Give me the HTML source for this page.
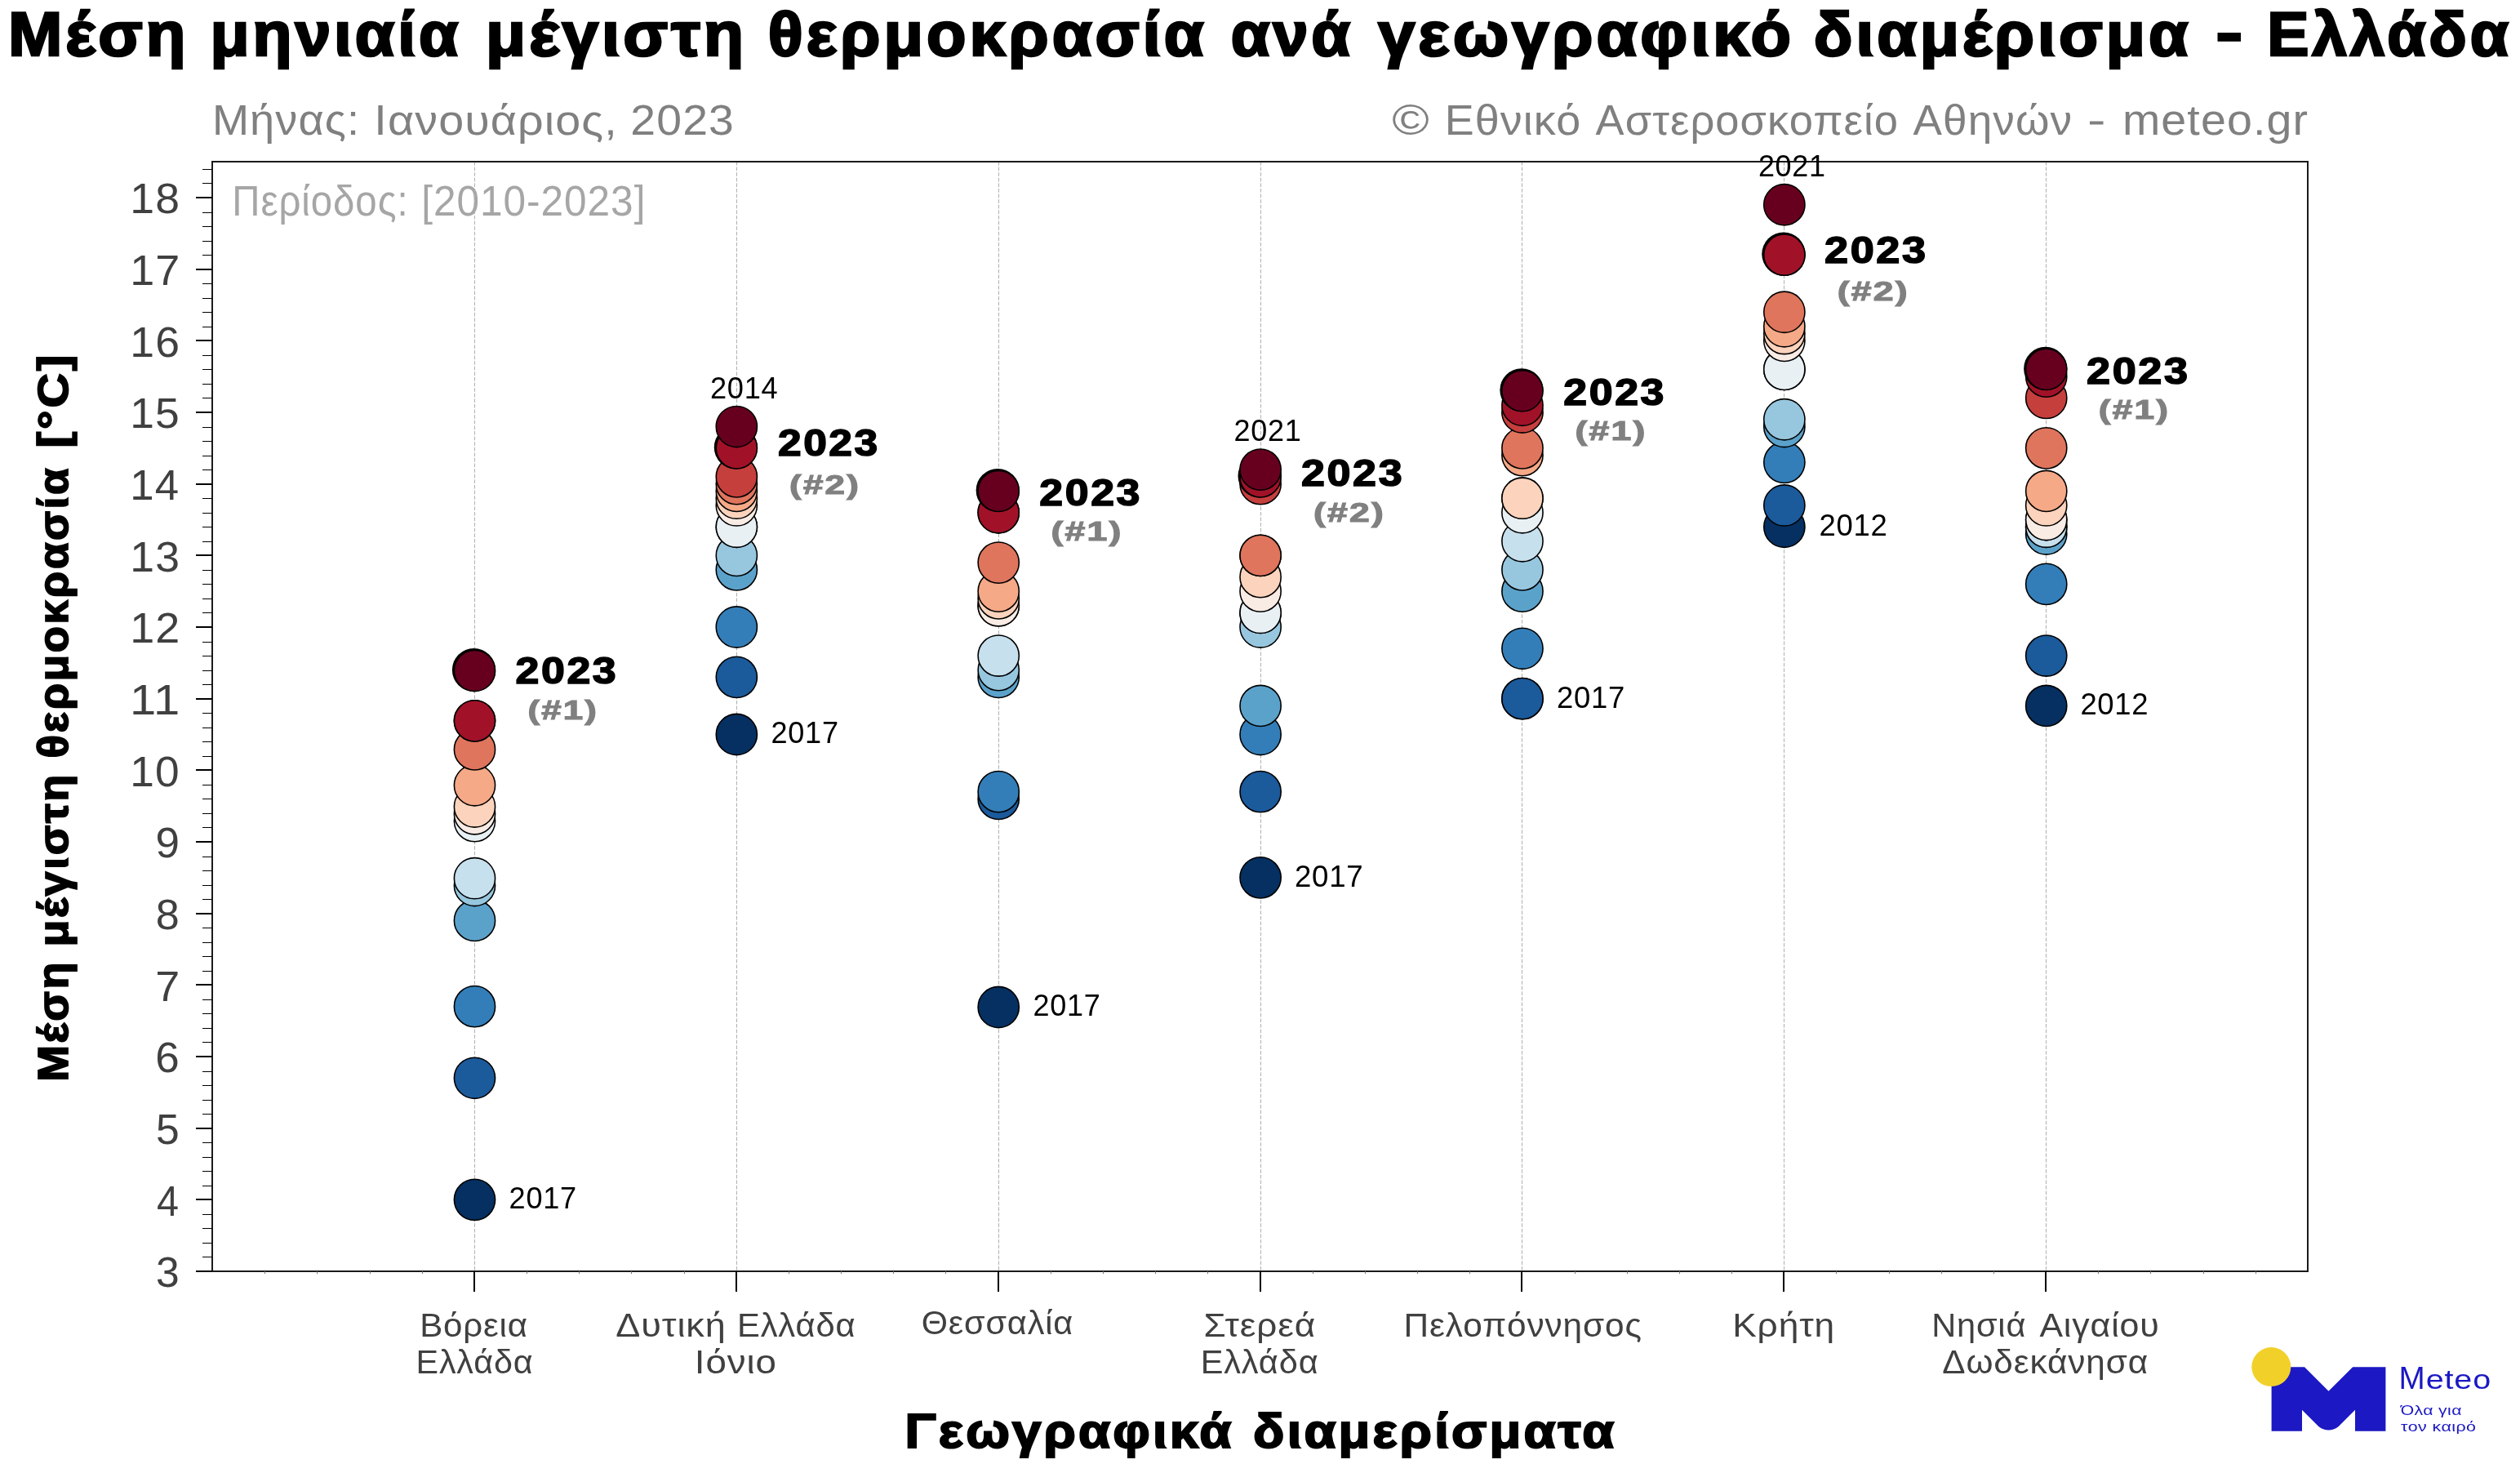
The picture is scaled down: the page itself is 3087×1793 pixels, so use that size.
<!DOCTYPE html>
<html lang="el"><head><meta charset="utf-8"><title>Μέση μηνιαία μέγιστη θερμοκρασία</title>
<style>html,body{margin:0;padding:0;background:#fff}svg{display:block;will-change:transform;transform:translateZ(0)}text{white-space:pre}</style></head>
<body>
<svg width="3087" height="1793" viewBox="0 0 3087 1793" font-family="'Liberation Sans', sans-serif">
<rect width="3087" height="1793" fill="#fff"/>
<text transform="translate(284.29,263.50) scale(0.9154,1)" font-size="51.74" letter-spacing="1.03" fill="#a6a6a6">Περίοδος:</text>
<text transform="translate(516.13,263.50) scale(0.9576,1)" font-size="51.74" letter-spacing="1.03" fill="#a6a6a6">[2010-2023]</text>
<line x1="581.5" y1="198" x2="581.5" y2="1557" stroke="#b0b0b0" stroke-width="1" stroke-dasharray="4.6 2"/>
<line x1="902.5" y1="198" x2="902.5" y2="1557" stroke="#b0b0b0" stroke-width="1" stroke-dasharray="4.6 2"/>
<line x1="1223.5" y1="198" x2="1223.5" y2="1557" stroke="#b0b0b0" stroke-width="1" stroke-dasharray="4.6 2"/>
<line x1="1544.5" y1="198" x2="1544.5" y2="1557" stroke="#b0b0b0" stroke-width="1" stroke-dasharray="4.6 2"/>
<line x1="1864.5" y1="198" x2="1864.5" y2="1557" stroke="#b0b0b0" stroke-width="1" stroke-dasharray="4.6 2"/>
<line x1="2185.5" y1="198" x2="2185.5" y2="1557" stroke="#b0b0b0" stroke-width="1" stroke-dasharray="4.6 2"/>
<line x1="2506.5" y1="198" x2="2506.5" y2="1557" stroke="#b0b0b0" stroke-width="1" stroke-dasharray="4.6 2"/>
<circle cx="581.48" cy="1469.33" r="25.1" fill="#053061" stroke="#000" stroke-width="1.6"/>
<circle cx="581.48" cy="1320.30" r="25.1" fill="#1b5a9b" stroke="#000" stroke-width="1.6"/>
<circle cx="581.48" cy="1232.63" r="25.1" fill="#337eb8" stroke="#000" stroke-width="1.6"/>
<circle cx="581.48" cy="1127.43" r="25.1" fill="#5ba2cb" stroke="#000" stroke-width="1.6"/>
<circle cx="581.48" cy="1084.48" r="25.1" fill="#97c7df" stroke="#000" stroke-width="1.6"/>
<circle cx="581.48" cy="1075.71" r="25.1" fill="#c7e0ed" stroke="#000" stroke-width="1.6"/>
<circle cx="581.48" cy="1005.58" r="25.1" fill="#e8f0f4" stroke="#000" stroke-width="1.6"/>
<circle cx="581.48" cy="996.81" r="25.1" fill="#f9ece5" stroke="#000" stroke-width="1.6"/>
<circle cx="581.48" cy="988.04" r="25.1" fill="#fcd3bc" stroke="#000" stroke-width="1.6"/>
<circle cx="581.48" cy="961.74" r="25.1" fill="#f5a987" stroke="#000" stroke-width="1.6"/>
<circle cx="581.48" cy="917.91" r="25.1" fill="#df755d" stroke="#000" stroke-width="1.6"/>
<circle cx="581.48" cy="882.84" r="25.1" fill="#c53f3d" stroke="#000" stroke-width="1.6"/>
<circle cx="581.48" cy="882.84" r="25.1" fill="#a11228" stroke="#000" stroke-width="1.6"/>
<circle cx="580.48" cy="820.53" r="26.6" fill="#000"/>
<circle cx="581.48" cy="821.48" r="25.1" fill="#67001f" stroke="#000" stroke-width="1.6"/>
<circle cx="902.35" cy="899.50" r="25.1" fill="#053061" stroke="#000" stroke-width="1.6"/>
<circle cx="902.35" cy="829.37" r="25.1" fill="#1b5a9b" stroke="#000" stroke-width="1.6"/>
<circle cx="902.35" cy="768.00" r="25.1" fill="#337eb8" stroke="#000" stroke-width="1.6"/>
<circle cx="902.35" cy="697.87" r="25.1" fill="#5ba2cb" stroke="#000" stroke-width="1.6"/>
<circle cx="902.35" cy="680.33" r="25.1" fill="#97c7df" stroke="#000" stroke-width="1.6"/>
<circle cx="902.35" cy="645.27" r="25.1" fill="#c7e0ed" stroke="#000" stroke-width="1.6"/>
<circle cx="902.35" cy="645.27" r="25.1" fill="#e8f0f4" stroke="#000" stroke-width="1.6"/>
<circle cx="902.35" cy="618.97" r="25.1" fill="#f9ece5" stroke="#000" stroke-width="1.6"/>
<circle cx="902.35" cy="610.20" r="25.1" fill="#fcd3bc" stroke="#000" stroke-width="1.6"/>
<circle cx="902.35" cy="601.43" r="25.1" fill="#f5a987" stroke="#000" stroke-width="1.6"/>
<circle cx="902.35" cy="592.67" r="25.1" fill="#df755d" stroke="#000" stroke-width="1.6"/>
<circle cx="902.35" cy="583.90" r="25.1" fill="#c53f3d" stroke="#000" stroke-width="1.6"/>
<circle cx="901.35" cy="547.88" r="26.6" fill="#000"/>
<circle cx="902.35" cy="548.83" r="25.1" fill="#a11228" stroke="#000" stroke-width="1.6"/>
<circle cx="902.35" cy="522.53" r="25.1" fill="#67001f" stroke="#000" stroke-width="1.6"/>
<circle cx="1223.22" cy="1233.51" r="25.1" fill="#053061" stroke="#000" stroke-width="1.6"/>
<circle cx="1223.22" cy="978.40" r="25.1" fill="#1b5a9b" stroke="#000" stroke-width="1.6"/>
<circle cx="1223.22" cy="969.63" r="25.1" fill="#337eb8" stroke="#000" stroke-width="1.6"/>
<circle cx="1223.22" cy="829.37" r="25.1" fill="#5ba2cb" stroke="#000" stroke-width="1.6"/>
<circle cx="1223.22" cy="820.60" r="25.1" fill="#97c7df" stroke="#000" stroke-width="1.6"/>
<circle cx="1223.22" cy="803.07" r="25.1" fill="#c7e0ed" stroke="#000" stroke-width="1.6"/>
<circle cx="1223.22" cy="741.70" r="25.1" fill="#e8f0f4" stroke="#000" stroke-width="1.6"/>
<circle cx="1223.22" cy="741.70" r="25.1" fill="#f9ece5" stroke="#000" stroke-width="1.6"/>
<circle cx="1223.22" cy="732.93" r="25.1" fill="#fcd3bc" stroke="#000" stroke-width="1.6"/>
<circle cx="1223.22" cy="724.17" r="25.1" fill="#f5a987" stroke="#000" stroke-width="1.6"/>
<circle cx="1223.22" cy="689.10" r="25.1" fill="#df755d" stroke="#000" stroke-width="1.6"/>
<circle cx="1223.22" cy="627.73" r="25.1" fill="#c53f3d" stroke="#000" stroke-width="1.6"/>
<circle cx="1223.22" cy="627.73" r="25.1" fill="#a11228" stroke="#000" stroke-width="1.6"/>
<circle cx="1222.22" cy="600.48" r="26.6" fill="#000"/>
<circle cx="1223.22" cy="601.43" r="25.1" fill="#67001f" stroke="#000" stroke-width="1.6"/>
<circle cx="1544.10" cy="1074.83" r="25.1" fill="#053061" stroke="#000" stroke-width="1.6"/>
<circle cx="1544.10" cy="969.63" r="25.1" fill="#1b5a9b" stroke="#000" stroke-width="1.6"/>
<circle cx="1544.10" cy="899.50" r="25.1" fill="#337eb8" stroke="#000" stroke-width="1.6"/>
<circle cx="1544.10" cy="864.43" r="25.1" fill="#5ba2cb" stroke="#000" stroke-width="1.6"/>
<circle cx="1544.10" cy="768.00" r="25.1" fill="#97c7df" stroke="#000" stroke-width="1.6"/>
<circle cx="1544.10" cy="750.47" r="25.1" fill="#c7e0ed" stroke="#000" stroke-width="1.6"/>
<circle cx="1544.10" cy="750.47" r="25.1" fill="#e8f0f4" stroke="#000" stroke-width="1.6"/>
<circle cx="1544.10" cy="724.17" r="25.1" fill="#f9ece5" stroke="#000" stroke-width="1.6"/>
<circle cx="1544.10" cy="706.63" r="25.1" fill="#fcd3bc" stroke="#000" stroke-width="1.6"/>
<circle cx="1544.10" cy="680.33" r="25.1" fill="#f5a987" stroke="#000" stroke-width="1.6"/>
<circle cx="1544.10" cy="680.33" r="25.1" fill="#df755d" stroke="#000" stroke-width="1.6"/>
<circle cx="1544.10" cy="592.67" r="25.1" fill="#c53f3d" stroke="#000" stroke-width="1.6"/>
<circle cx="1543.10" cy="582.95" r="26.6" fill="#000"/>
<circle cx="1544.10" cy="583.90" r="25.1" fill="#a11228" stroke="#000" stroke-width="1.6"/>
<circle cx="1544.10" cy="575.13" r="25.1" fill="#67001f" stroke="#000" stroke-width="1.6"/>
<circle cx="1864.97" cy="855.67" r="25.1" fill="#053061" stroke="#000" stroke-width="1.6"/>
<circle cx="1864.97" cy="855.67" r="25.1" fill="#1b5a9b" stroke="#000" stroke-width="1.6"/>
<circle cx="1864.97" cy="794.30" r="25.1" fill="#337eb8" stroke="#000" stroke-width="1.6"/>
<circle cx="1864.97" cy="724.17" r="25.1" fill="#5ba2cb" stroke="#000" stroke-width="1.6"/>
<circle cx="1864.97" cy="697.87" r="25.1" fill="#97c7df" stroke="#000" stroke-width="1.6"/>
<circle cx="1864.97" cy="662.80" r="25.1" fill="#c7e0ed" stroke="#000" stroke-width="1.6"/>
<circle cx="1864.97" cy="627.73" r="25.1" fill="#e8f0f4" stroke="#000" stroke-width="1.6"/>
<circle cx="1864.97" cy="610.20" r="25.1" fill="#f9ece5" stroke="#000" stroke-width="1.6"/>
<circle cx="1864.97" cy="610.20" r="25.1" fill="#fcd3bc" stroke="#000" stroke-width="1.6"/>
<circle cx="1864.97" cy="557.60" r="25.1" fill="#f5a987" stroke="#000" stroke-width="1.6"/>
<circle cx="1864.97" cy="548.83" r="25.1" fill="#df755d" stroke="#000" stroke-width="1.6"/>
<circle cx="1864.97" cy="505.00" r="25.1" fill="#c53f3d" stroke="#000" stroke-width="1.6"/>
<circle cx="1864.97" cy="496.23" r="25.1" fill="#a11228" stroke="#000" stroke-width="1.6"/>
<circle cx="1863.97" cy="477.75" r="26.6" fill="#000"/>
<circle cx="1864.97" cy="478.70" r="25.1" fill="#67001f" stroke="#000" stroke-width="1.6"/>
<circle cx="2185.85" cy="645.27" r="25.1" fill="#053061" stroke="#000" stroke-width="1.6"/>
<circle cx="2185.85" cy="618.97" r="25.1" fill="#1b5a9b" stroke="#000" stroke-width="1.6"/>
<circle cx="2185.85" cy="566.37" r="25.1" fill="#337eb8" stroke="#000" stroke-width="1.6"/>
<circle cx="2185.85" cy="522.53" r="25.1" fill="#5ba2cb" stroke="#000" stroke-width="1.6"/>
<circle cx="2185.85" cy="513.77" r="25.1" fill="#97c7df" stroke="#000" stroke-width="1.6"/>
<circle cx="2185.85" cy="452.40" r="25.1" fill="#c7e0ed" stroke="#000" stroke-width="1.6"/>
<circle cx="2185.85" cy="452.40" r="25.1" fill="#e8f0f4" stroke="#000" stroke-width="1.6"/>
<circle cx="2185.85" cy="417.33" r="25.1" fill="#f9ece5" stroke="#000" stroke-width="1.6"/>
<circle cx="2185.85" cy="408.57" r="25.1" fill="#fcd3bc" stroke="#000" stroke-width="1.6"/>
<circle cx="2185.85" cy="399.80" r="25.1" fill="#f5a987" stroke="#000" stroke-width="1.6"/>
<circle cx="2185.85" cy="382.27" r="25.1" fill="#df755d" stroke="#000" stroke-width="1.6"/>
<circle cx="2185.85" cy="312.13" r="25.1" fill="#c53f3d" stroke="#000" stroke-width="1.6"/>
<circle cx="2184.85" cy="311.18" r="26.6" fill="#000"/>
<circle cx="2185.85" cy="312.13" r="25.1" fill="#a11228" stroke="#000" stroke-width="1.6"/>
<circle cx="2185.85" cy="250.77" r="25.1" fill="#67001f" stroke="#000" stroke-width="1.6"/>
<circle cx="2506.72" cy="864.43" r="25.1" fill="#053061" stroke="#000" stroke-width="1.6"/>
<circle cx="2506.72" cy="803.07" r="25.1" fill="#1b5a9b" stroke="#000" stroke-width="1.6"/>
<circle cx="2506.72" cy="715.40" r="25.1" fill="#337eb8" stroke="#000" stroke-width="1.6"/>
<circle cx="2506.72" cy="654.03" r="25.1" fill="#5ba2cb" stroke="#000" stroke-width="1.6"/>
<circle cx="2506.72" cy="645.27" r="25.1" fill="#97c7df" stroke="#000" stroke-width="1.6"/>
<circle cx="2506.72" cy="645.27" r="25.1" fill="#c7e0ed" stroke="#000" stroke-width="1.6"/>
<circle cx="2506.72" cy="636.50" r="25.1" fill="#e8f0f4" stroke="#000" stroke-width="1.6"/>
<circle cx="2506.72" cy="636.50" r="25.1" fill="#f9ece5" stroke="#000" stroke-width="1.6"/>
<circle cx="2506.72" cy="618.97" r="25.1" fill="#fcd3bc" stroke="#000" stroke-width="1.6"/>
<circle cx="2506.72" cy="601.43" r="25.1" fill="#f5a987" stroke="#000" stroke-width="1.6"/>
<circle cx="2506.72" cy="548.83" r="25.1" fill="#df755d" stroke="#000" stroke-width="1.6"/>
<circle cx="2506.72" cy="487.47" r="25.1" fill="#c53f3d" stroke="#000" stroke-width="1.6"/>
<circle cx="2506.72" cy="461.17" r="25.1" fill="#a11228" stroke="#000" stroke-width="1.6"/>
<circle cx="2505.72" cy="451.45" r="26.6" fill="#000"/>
<circle cx="2506.72" cy="452.40" r="25.1" fill="#67001f" stroke="#000" stroke-width="1.6"/>
<rect x="260" y="198" width="2567" height="1359" fill="none" stroke="#1a1a1a" stroke-width="2"/>
<line x1="240" y1="1557" x2="260" y2="1557" stroke="#000" stroke-width="2"/>
<line x1="240" y1="1469" x2="260" y2="1469" stroke="#000" stroke-width="2"/>
<line x1="240" y1="1382" x2="260" y2="1382" stroke="#000" stroke-width="2"/>
<line x1="240" y1="1294" x2="260" y2="1294" stroke="#000" stroke-width="2"/>
<line x1="240" y1="1206" x2="260" y2="1206" stroke="#000" stroke-width="2"/>
<line x1="240" y1="1119" x2="260" y2="1119" stroke="#000" stroke-width="2"/>
<line x1="240" y1="1031" x2="260" y2="1031" stroke="#000" stroke-width="2"/>
<line x1="240" y1="943" x2="260" y2="943" stroke="#000" stroke-width="2"/>
<line x1="240" y1="856" x2="260" y2="856" stroke="#000" stroke-width="2"/>
<line x1="240" y1="768" x2="260" y2="768" stroke="#000" stroke-width="2"/>
<line x1="240" y1="680" x2="260" y2="680" stroke="#000" stroke-width="2"/>
<line x1="240" y1="593" x2="260" y2="593" stroke="#000" stroke-width="2"/>
<line x1="240" y1="505" x2="260" y2="505" stroke="#000" stroke-width="2"/>
<line x1="240" y1="417" x2="260" y2="417" stroke="#000" stroke-width="2"/>
<line x1="240" y1="330" x2="260" y2="330" stroke="#000" stroke-width="2"/>
<line x1="240" y1="242" x2="260" y2="242" stroke="#000" stroke-width="2"/>
<path d="M248 1539.5H260M248 1522.5H260M248 1504.5H260M248 1487.5H260M248 1452.5H260M248 1434.5H260M248 1417.5H260M248 1399.5H260M248 1364.5H260M248 1347.5H260M248 1329.5H260M248 1312.5H260M248 1276.5H260M248 1259.5H260M248 1241.5H260M248 1224.5H260M248 1189.5H260M248 1171.5H260M248 1154.5H260M248 1136.5H260M248 1101.5H260M248 1084.5H260M248 1066.5H260M248 1049.5H260M248 1013.5H260M248 996.5H260M248 978.5H260M248 961.5H260M248 926.5H260M248 908.5H260M248 891.5H260M248 873.5H260M248 838.5H260M248 821.5H260M248 803.5H260M248 786.5H260M248 750.5H260M248 733.5H260M248 715.5H260M248 698.5H260M248 663.5H260M248 645.5H260M248 628.5H260M248 610.5H260M248 575.5H260M248 558.5H260M248 540.5H260M248 523.5H260M248 487.5H260M248 470.5H260M248 452.5H260M248 435.5H260M248 400.5H260M248 382.5H260M248 365.5H260M248 347.5H260M248 312.5H260M248 295.5H260M248 277.5H260M248 260.5H260M248 224.5H260M248 207.5H260" stroke="#000" stroke-width="1" fill="none"/>
<line x1="581" y1="1557" x2="581" y2="1582" stroke="#000" stroke-width="2"/>
<line x1="902" y1="1557" x2="902" y2="1582" stroke="#000" stroke-width="2"/>
<line x1="1223" y1="1557" x2="1223" y2="1582" stroke="#000" stroke-width="2"/>
<line x1="1544" y1="1557" x2="1544" y2="1582" stroke="#000" stroke-width="2"/>
<line x1="1864" y1="1557" x2="1864" y2="1582" stroke="#000" stroke-width="2"/>
<line x1="2185" y1="1557" x2="2185" y2="1582" stroke="#000" stroke-width="2"/>
<line x1="2506" y1="1557" x2="2506" y2="1582" stroke="#000" stroke-width="2"/>
<path d="M324.5 1557V1560.2M388.5 1557V1560.2M453.5 1557V1560.2M517.5 1557V1560.2M645.5 1557V1560.2M709.5 1557V1560.2M773.5 1557V1560.2M838.5 1557V1560.2M966.5 1557V1560.2M1030.5 1557V1560.2M1094.5 1557V1560.2M1158.5 1557V1560.2M1287.5 1557V1560.2M1351.5 1557V1560.2M1415.5 1557V1560.2M1479.5 1557V1560.2M1608.5 1557V1560.2M1672.5 1557V1560.2M1736.5 1557V1560.2M1800.5 1557V1560.2M1929.5 1557V1560.2M1993.5 1557V1560.2M2057.5 1557V1560.2M2121.5 1557V1560.2M2249.5 1557V1560.2M2314.5 1557V1560.2M2378.5 1557V1560.2M2442.5 1557V1560.2M2570.5 1557V1560.2M2634.5 1557V1560.2M2699.5 1557V1560.2M2763.5 1557V1560.2" stroke="#777" stroke-width="1" fill="none"/>
<rect x="2716.5" y="40" width="28.5" height="10.8" fill="#000"/>
<rect x="2560" y="148.5" width="16.5" height="4" fill="#808080"/>
<text transform="translate(9.93,68.29) scale(1.0567,1)" font-size="75.41" font-weight="bold" stroke="#000" stroke-width="2.62" letter-spacing="3.77" fill="#000">Μέση</text>
<text transform="translate(257.40,68.29) scale(1.0430,1)" font-size="75.41" font-weight="bold" stroke="#000" stroke-width="2.62" letter-spacing="3.77" fill="#000">μηνιαία</text>
<text transform="translate(595.09,68.29) scale(1.0643,1)" font-size="75.41" font-weight="bold" stroke="#000" stroke-width="2.62" letter-spacing="3.77" fill="#000">μέγιστη</text>
<text transform="translate(940.84,68.29) scale(1.0527,1)" font-size="75.41" font-weight="bold" stroke="#000" stroke-width="2.62" letter-spacing="3.77" fill="#000">θερμοκρασία</text>
<text transform="translate(1507.70,68.29) scale(1.0297,1)" font-size="75.41" font-weight="bold" stroke="#000" stroke-width="2.62" letter-spacing="3.77" fill="#000">ανά</text>
<text transform="translate(1688.21,68.29) scale(1.0741,1)" font-size="75.41" font-weight="bold" stroke="#000" stroke-width="2.62" letter-spacing="3.77" fill="#000">γεωγραφικό</text>
<text transform="translate(2221.76,68.29) scale(1.0452,1)" font-size="75.41" font-weight="bold" stroke="#000" stroke-width="2.62" letter-spacing="3.77" fill="#000">διαμέρισμα</text>
<text transform="translate(2777.13,68.29) scale(1.0183,1)" font-size="75.41" font-weight="bold" stroke="#000" stroke-width="2.62" letter-spacing="3.77" fill="#000">Ελλάδα</text>
<text transform="translate(259.93,165.10) scale(1.0317,1)" font-size="52.47" letter-spacing="1.05" fill="#808080">Μήνας:</text>
<text transform="translate(458.35,165.10) scale(1.0606,1)" font-size="52.47" letter-spacing="1.05" fill="#808080">Ιανουάριος,</text>
<text transform="translate(772.33,165.10) scale(1.0556,1)" font-size="52.47" letter-spacing="1.05" fill="#808080">2023</text>
<text transform="translate(1705.17,165.10) scale(1.1772,1)" font-size="52.47" letter-spacing="1.05" fill="#808080">©</text>
<text transform="translate(1769.75,165.10) scale(1.0271,1)" font-size="52.47" letter-spacing="1.05" fill="#808080">Εθνικό</text>
<text transform="translate(1954.57,165.10) scale(1.0014,1)" font-size="52.47" letter-spacing="1.05" fill="#808080">Αστεροσκοπείο</text>
<text transform="translate(2343.57,165.10) scale(1.0129,1)" font-size="52.47" letter-spacing="1.05" fill="#808080">Αθηνών</text>
<text transform="translate(2599.95,165.10) scale(1.0590,1)" font-size="52.47" letter-spacing="1.05" fill="#808080">meteo.gr</text>
<text transform="translate(191.07,1576.40) scale(0.9857,1)" font-size="52.33" letter-spacing="1.05" fill="#404040">3</text>
<text transform="translate(191.91,1488.73) scale(0.9272,1)" font-size="52.33" letter-spacing="1.05" fill="#404040">4</text>
<text transform="translate(190.94,1401.07) scale(0.9857,1)" font-size="52.33" letter-spacing="1.05" fill="#404040">5</text>
<text transform="translate(190.35,1313.40) scale(1.0124,1)" font-size="52.33" letter-spacing="1.05" fill="#404040">6</text>
<text transform="translate(190.31,1225.73) scale(1.0291,1)" font-size="52.33" letter-spacing="1.05" fill="#404040">7</text>
<text transform="translate(190.78,1138.07) scale(0.9962,1)" font-size="52.33" letter-spacing="1.05" fill="#404040">8</text>
<text transform="translate(190.48,1050.40) scale(1.0124,1)" font-size="52.33" letter-spacing="1.05" fill="#404040">9</text>
<text transform="translate(159.31,962.73) scale(1.0179,1)" font-size="52.33" letter-spacing="1.05" fill="#404040">10</text>
<text transform="translate(158.95,875.07) scale(1.1078,1)" font-size="52.33" letter-spacing="1.05" fill="#404040">11</text>
<text transform="translate(159.26,787.40) scale(1.0306,1)" font-size="52.33" letter-spacing="1.05" fill="#404040">12</text>
<text transform="translate(159.29,699.73) scale(1.0230,1)" font-size="52.33" letter-spacing="1.05" fill="#404040">13</text>
<text transform="translate(159.34,612.07) scale(1.0080,1)" font-size="52.33" letter-spacing="1.05" fill="#404040">14</text>
<text transform="translate(159.30,524.40) scale(1.0204,1)" font-size="52.33" letter-spacing="1.05" fill="#404040">15</text>
<text transform="translate(159.29,436.73) scale(1.0230,1)" font-size="52.33" letter-spacing="1.05" fill="#404040">16</text>
<text transform="translate(159.26,349.07) scale(1.0306,1)" font-size="52.33" letter-spacing="1.05" fill="#404040">17</text>
<text transform="translate(159.29,261.40) scale(1.0230,1)" font-size="52.33" letter-spacing="1.05" fill="#404040">18</text>
<text transform="translate(83.41,1324.83) rotate(-90) scale(1.0524,1)" font-size="50.92" font-weight="bold" stroke="#000" stroke-width="1.77" letter-spacing="2.55" fill="#000">Μέση</text>
<text transform="translate(83.41,1159.35) rotate(-90) scale(1.0492,1)" font-size="50.92" font-weight="bold" stroke="#000" stroke-width="1.77" letter-spacing="2.55" fill="#000">μέγιστη</text>
<text transform="translate(83.41,928.46) rotate(-90) scale(1.0367,1)" font-size="50.92" font-weight="bold" stroke="#000" stroke-width="1.77" letter-spacing="2.55" fill="#000">θερμοκρασία</text>
<text transform="translate(83.41,548.55) rotate(-90) scale(1.1544,1)" font-size="50.92" font-weight="bold" stroke="#000" stroke-width="1.77" letter-spacing="2.55" fill="#000">[°C]</text>
<text transform="translate(514.13,1636.70) scale(1.0450,1)" font-size="40.26" letter-spacing="0.81" fill="#404040">Βόρεια</text>
<text transform="translate(509.49,1682.40) scale(1.0266,1)" font-size="40.26" letter-spacing="0.81" fill="#404040">Ελλάδα</text>
<text transform="translate(754.25,1636.70) scale(1.1185,1)" font-size="40.26" letter-spacing="0.81" fill="#404040">Δυτική</text>
<text transform="translate(902.95,1636.70) scale(1.0377,1)" font-size="40.26" letter-spacing="0.81" fill="#404040">Ελλάδα</text>
<text transform="translate(850.77,1682.40) scale(1.1357,1)" font-size="40.26" letter-spacing="0.81" fill="#404040">Ιόνιο</text>
<text transform="translate(1128.63,1633.80) scale(1.0300,1)" font-size="40.26" letter-spacing="0.81" fill="#404040">Θεσσαλία</text>
<text transform="translate(1474.39,1636.70) scale(1.0944,1)" font-size="40.26" letter-spacing="0.81" fill="#404040">Στερεά</text>
<text transform="translate(1470.67,1682.40) scale(1.0326,1)" font-size="40.26" letter-spacing="0.81" fill="#404040">Ελλάδα</text>
<text transform="translate(1719.60,1636.70) scale(1.0528,1)" font-size="40.26" letter-spacing="0.81" fill="#404040">Πελοπόννησος</text>
<text transform="translate(2122.14,1636.70) scale(1.1009,1)" font-size="40.26" letter-spacing="0.81" fill="#404040">Κρήτη</text>
<text transform="translate(2366.17,1636.70) scale(1.0315,1)" font-size="40.26" letter-spacing="0.81" fill="#404040">Νησιά</text>
<text transform="translate(2498.39,1636.70) scale(1.0649,1)" font-size="40.26" letter-spacing="0.81" fill="#404040">Αιγαίου</text>
<text transform="translate(2379.33,1682.40) scale(1.0515,1)" font-size="40.26" letter-spacing="0.81" fill="#404040">Δωδεκάνησα</text>
<text transform="translate(1108.42,1772.98) scale(1.0890,1)" font-size="58.39" font-weight="bold" stroke="#000" stroke-width="2.03" letter-spacing="2.92" fill="#000">Γεωγραφικά</text>
<text transform="translate(1535.02,1772.98) scale(1.0861,1)" font-size="58.39" font-weight="bold" stroke="#000" stroke-width="2.03" letter-spacing="2.92" fill="#000">διαμερίσματα</text>
<text transform="translate(631.49,836.80) scale(1.1163,1)" font-size="46.50" font-weight="bold" stroke="#000" stroke-width="1.61" letter-spacing="2.32" fill="#000">2023</text>
<text transform="translate(646.38,880.83) scale(1.3266,1)" font-size="33.07" font-weight="bold" stroke="#808080" stroke-width="1.15" letter-spacing="1.65" fill="#808080">(#1)</text>
<text transform="translate(952.90,558.40) scale(1.1088,1)" font-size="46.50" font-weight="bold" stroke="#000" stroke-width="1.61" letter-spacing="2.32" fill="#000">2023</text>
<text transform="translate(967.08,605.12) scale(1.3299,1)" font-size="33.07" font-weight="bold" stroke="#808080" stroke-width="1.15" letter-spacing="1.65" fill="#808080">(#2)</text>
<text transform="translate(1273.29,619.00) scale(1.1153,1)" font-size="46.50" font-weight="bold" stroke="#000" stroke-width="1.61" letter-spacing="2.32" fill="#000">2023</text>
<text transform="translate(1287.45,662.02) scale(1.3481,1)" font-size="33.07" font-weight="bold" stroke="#808080" stroke-width="1.15" letter-spacing="1.65" fill="#808080">(#1)</text>
<text transform="translate(1593.98,594.60) scale(1.1200,1)" font-size="46.50" font-weight="bold" stroke="#000" stroke-width="1.61" letter-spacing="2.32" fill="#000">2023</text>
<text transform="translate(1609.05,638.92) scale(1.3464,1)" font-size="33.07" font-weight="bold" stroke="#808080" stroke-width="1.15" letter-spacing="1.65" fill="#808080">(#2)</text>
<text transform="translate(1915.29,495.69) scale(1.1153,1)" font-size="46.50" font-weight="bold" stroke="#000" stroke-width="1.61" letter-spacing="2.32" fill="#000">2023</text>
<text transform="translate(1929.45,539.02) scale(1.3481,1)" font-size="33.07" font-weight="bold" stroke="#808080" stroke-width="1.15" letter-spacing="1.65" fill="#808080">(#1)</text>
<text transform="translate(2234.98,322.09) scale(1.1237,1)" font-size="46.50" font-weight="bold" stroke="#000" stroke-width="1.61" letter-spacing="2.32" fill="#000">2023</text>
<text transform="translate(2250.75,368.32) scale(1.3481,1)" font-size="33.07" font-weight="bold" stroke="#808080" stroke-width="1.15" letter-spacing="1.65" fill="#808080">(#2)</text>
<text transform="translate(2555.98,470.00) scale(1.1237,1)" font-size="46.50" font-weight="bold" stroke="#000" stroke-width="1.61" letter-spacing="2.32" fill="#000">2023</text>
<text transform="translate(2570.77,512.73) scale(1.3365,1)" font-size="33.07" font-weight="bold" stroke="#808080" stroke-width="1.15" letter-spacing="1.65" fill="#808080">(#1)</text>
<text transform="translate(623.59,1479.90) scale(0.9948,1)" font-size="36.34" letter-spacing="0.73" fill="#000">2017</text>
<text transform="translate(869.99,488.10) scale(0.9971,1)" font-size="36.34" letter-spacing="0.73" fill="#000">2014</text>
<text transform="translate(944.49,910.10) scale(0.9935,1)" font-size="36.34" letter-spacing="0.73" fill="#000">2017</text>
<text transform="translate(1265.50,1244.00) scale(0.9910,1)" font-size="36.34" letter-spacing="0.73" fill="#000">2017</text>
<text transform="translate(1511.50,540.20) scale(0.9911,1)" font-size="36.34" letter-spacing="0.73" fill="#000">2021</text>
<text transform="translate(1585.97,1086.20) scale(1.0086,1)" font-size="36.34" letter-spacing="0.73" fill="#000">2017</text>
<text transform="translate(1906.98,866.90) scale(1.0036,1)" font-size="36.34" letter-spacing="0.73" fill="#000">2017</text>
<text transform="translate(2153.90,216.30) scale(0.9898,1)" font-size="36.34" letter-spacing="0.73" fill="#000">2021</text>
<text transform="translate(2228.38,656.20) scale(1.0036,1)" font-size="36.34" letter-spacing="0.73" fill="#000">2012</text>
<text transform="translate(2548.38,875.40) scale(1.0023,1)" font-size="36.34" letter-spacing="0.73" fill="#000">2012</text>
<path d="M2782.6 1674.2H2823L2852.5 1703.7L2882.1 1674.2H2922.4V1752.8H2885V1726.8L2864.5 1747.2Q2852.5 1756 2840.5 1747.2L2820 1726.8V1752.8H2782.6Z" fill="#1b18c4"/>
<circle cx="2782.3" cy="1674.1" r="24" fill="#f2d02a"/>
<text transform="translate(2938.61,1701.30) scale(0.9960,1)" font-size="38.81" letter-spacing="0.78" fill="#1b18c4">M</text>
<text transform="translate(2971.72,1701.30) scale(1.2064,1)" font-size="32.85" letter-spacing="0.66" fill="#1b18c4">eteo</text>
<text transform="translate(2940.64,1732.90) scale(1.2553,1)" font-size="16.86" letter-spacing="0.34" fill="#1b18c4">Όλα για</text>
<text transform="translate(2941.08,1752.80) scale(1.2706,1)" font-size="16.86" letter-spacing="0.34" fill="#1b18c4">τον καιρό</text>
</svg>
</body></html>
